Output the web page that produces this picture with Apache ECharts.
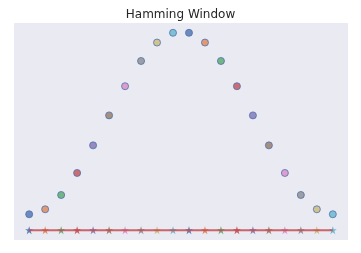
<!DOCTYPE html>
<html>
<head>
<meta charset="utf-8">
<script src="https://cdn.jsdelivr.net/npm/echarts@6/dist/echarts.min.js"></script>
<style>html,body{margin:0;padding:0;background:#fff;}#c{width:361px;height:253px;}</style>
</head>
<body>
<div id="c"></div>
<script>
const title = "Hamming Window";
const sampleIndex = [0,1,2,3,4,5,6,7,8,9,10,11,12,13,14,15,16,17,18,19];
const windowValues = [0.08,0.105,0.177,0.288,0.427,0.578,0.725,0.852,0.945,0.994,0.994,0.945,0.852,0.725,0.578,0.427,0.288,0.177,0.105,0.08];
const baselineValues = [0,0,0,0,0,0,0,0,0,0,0,0,0,0,0,0,0,0,0,0];
const palette = ['#4C72B0','#DD8452','#55A868','#C44E52','#8172B3','#937860','#DA8BC3','#8C8C8C','#CCB974','#64B5CD'];

const chart = echarts.init(document.getElementById('c'), null, {renderer:'canvas'});
const pts = sampleIndex.map((x,i)=>[x, windowValues[i]]);
const base = sampleIndex.map((x,i)=>[x, baselineValues[i]]);
chart.setOption({
  animation:false,
  backgroundColor:'#ffffff',
  title:{text:title,left:'center',top:4,textStyle:{fontFamily:'DejaVu Sans',fontSize:12,fontWeight:'normal',color:'#262626'}},
  grid:{left:14,right:13,top:23,bottom:13,show:true,backgroundColor:'#EAEAF2',borderWidth:0},
  xAxis:{type:'value',min:-0.95,max:19.95,show:false},
  yAxis:{type:'value',min:-0.0497,max:1.0434,show:false},
  series:[
    {type:'scatter',data:base,symbol:'path://M0,-1 L0.2245,-0.309 L0.951,-0.309 L0.363,0.118 L0.588,0.809 L0,0.382 L-0.588,0.809 L-0.363,0.118 L-0.951,-0.309 L-0.2245,-0.309 Z',symbolSize:8,z:2,
     itemStyle:{color:(p)=>palette[p.dataIndex%palette.length],opacity:0.9}},
    {type:'line',data:base,symbol:'none',z:3,lineStyle:{color:'#C44E52',width:2,opacity:0.85}},
    {type:'scatter',data:pts,symbol:'circle',symbolSize:7,z:4,
     itemStyle:{color:(p)=>palette[p.dataIndex%palette.length],borderColor:'#4C72B0',borderWidth:1}}
  ]
});
</script>
</body>
</html>
